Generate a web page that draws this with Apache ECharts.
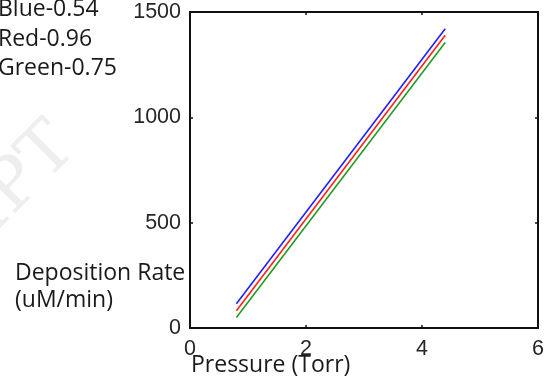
<!DOCTYPE html>
<html>
<head>
<meta charset="utf-8">
<script src="https://cdn.jsdelivr.net/npm/echarts@6/dist/echarts.min.js"></script>
<style>
  html, body { margin: 0; padding: 0; background: #fff; }
  #chart { width: 547px; height: 381px; }
</style>
</head>
<body>
<div id="chart"></div>
<script>
// pressure (Torr) at the two ends of each fitted line
const pressure = [0.8, 4.4];
// deposition rate (uM/min)
const blueRate = [115, 1420];
const redRate = [82, 1390];
const greenRate = [50, 1355];

const xTicks = [0, 2, 4, 6];
const yTicks = [0, 500, 1000, 1500];
const legendLines = ["Blue-0.54", "Red-0.96", "Green-0.75"];

const chart = echarts.init(document.getElementById("chart"));

const toPairs = ys => pressure.map((x, i) => [x, ys[i]]);

const tickFont = { fontFamily: "Liberation Sans", fontSize: 21.5, color: "#262626" };
const textFont = { fontFamily: "Open Sans", fontSize: 23, fill: "#1a1a1a" };

const baseAxis = {
  axisLine: { show: true, onZero: false, lineStyle: { color: "#111", width: 2 } },
  axisTick: { show: true, inside: true, length: 3, lineStyle: { color: "#111", width: 1.5 } },
  splitLine: { show: false }
};

const option = {
  animation: false,
  grid: { left: 190, right: 7, top: 12, bottom: 53 },
  xAxis: [
    {
      ...baseAxis,
      type: "value",
      min: xTicks[0],
      max: xTicks[xTicks.length - 1],
      interval: 2,
      axisLabel: { ...tickFont, margin: 10, showMinLabel: true, showMaxLabel: true, formatter: v => String(v) }
    },
    {
      ...baseAxis,
      type: "value",
      position: "top",
      min: xTicks[0],
      max: xTicks[xTicks.length - 1],
      interval: 2,
      axisLabel: { show: false }
    }
  ],
  yAxis: [
    {
      ...baseAxis,
      type: "value",
      min: yTicks[0],
      max: yTicks[yTicks.length - 1],
      interval: 500,
      axisLabel: { ...tickFont, margin: 9, formatter: v => String(v) }
    },
    {
      ...baseAxis,
      type: "value",
      position: "right",
      min: yTicks[0],
      max: yTicks[yTicks.length - 1],
      interval: 500,
      axisLabel: { show: false }
    }
  ],
  series: [
    { name: "Blue", type: "line", data: toPairs(blueRate), color: "#1f1fff" },
    { name: "Red", type: "line", data: toPairs(redRate), color: "#ff2020" },
    { name: "Green", type: "line", data: toPairs(greenRate), color: "#239b23" }
  ].map(s => ({
    ...s,
    showSymbol: false,
    silent: true,
    lineStyle: { width: 1.6 }
  })),
  graphic: [
    // faint watermark letters on the left
    {
      type: "text",
      left: -45,
      top: 112,
      rotation: Math.PI / 4,
      style: { text: "IPT", font: "70px 'DejaVu Serif'", fill: "#eeeeee" },
      z: -1
    },
    ...legendLines.map((t, i) => ({
      type: "text",
      left: -2,
      top: -2 + i * 29.5,
      style: { ...textFont, text: t }
    })),
    { type: "text", left: 15, top: 262, style: { ...textFont, text: "Deposition Rate" } },
    { type: "text", left: 15, top: 289, style: { ...textFont, text: "(uM/min)" } },
    { type: "text", left: 191, top: 354, style: { ...textFont, text: "Pressure (Torr)" } }
  ]
};

chart.setOption(option);
</script>
</body>
</html>
